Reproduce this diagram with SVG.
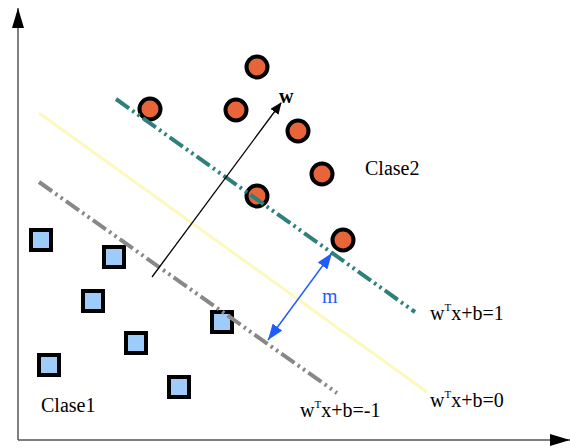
<svg xmlns="http://www.w3.org/2000/svg" width="570" height="448" viewBox="0 0 570 448">
<defs>
<style>
.c1{fill:#E8653A;stroke:#000;stroke-width:4}
.c2{fill:#9DCCFA;stroke:#000;stroke-width:4}
.lbl{font-family:"Liberation Serif",serif;font-size:20px;fill:#000}
.ax{stroke:#555;stroke-width:1.5;fill:none}
.dd{fill:none;stroke-width:4;stroke-dasharray:16 4 2.5 4 2.5 4}
</style>
<marker id="ah" markerWidth="12" markerHeight="10" refX="11" refY="5" orient="auto" markerUnits="userSpaceOnUse"><path d="M0,0 L12,5 L0,10 Z" fill="#000"/></marker>
<marker id="axh" markerWidth="20" markerHeight="12" refX="20" refY="6" orient="auto" markerUnits="userSpaceOnUse"><path d="M0,0 L20,6 L0,12 Z" fill="#000"/></marker>
<marker id="bh" markerWidth="16" markerHeight="12" refX="16" refY="6" orient="auto-start-reverse" markerUnits="userSpaceOnUse"><path d="M0,0 L16,6 L0,12 Z" fill="#1F5BFF"/></marker>
</defs>
<g id="axes">
<line class="ax" x1="18" y1="440" x2="18" y2="8" marker-end="url(#axh)"/>
<line class="ax" x1="18" y1="440" x2="570" y2="440" marker-end="url(#axh)"/>
</g>
<g id="class2">
<circle class="c1" cx="257" cy="67" r="10.5"/>
<circle class="c1" cx="150" cy="109" r="10.5"/>
<circle class="c1" cx="236" cy="110" r="10.5"/>
<circle class="c1" cx="298" cy="131" r="10.5"/>
<circle class="c1" cx="322" cy="174" r="10.5"/>
<circle class="c1" cx="257" cy="196" r="10.5"/>
<circle class="c1" cx="343" cy="240" r="10.5"/>
</g>
<g id="class1">
<rect class="c2" x="31" y="230" width="20" height="20"/>
<rect class="c2" x="104" y="247" width="20" height="20"/>
<rect class="c2" x="83" y="291" width="20" height="20"/>
<rect class="c2" x="212" y="312" width="20" height="20"/>
<rect class="c2" x="126" y="333" width="20" height="20"/>
<rect class="c2" x="39" y="355" width="20" height="20"/>
<rect class="c2" x="169" y="377" width="20" height="20"/>
</g>
<g id="connectors">
<line x1="39" y1="113" x2="427" y2="392" stroke="#FCF9BE" stroke-width="3"/>
<line class="dd" x1="116" y1="99" x2="415" y2="312" stroke="#2E807B"/>
<line class="dd" x1="39" y1="182" x2="337" y2="393" stroke="#888888"/>
<line x1="152" y1="277" x2="281" y2="103" stroke="#000" stroke-width="1.3" marker-end="url(#ah)"/>
<line x1="268" y1="340" x2="332" y2="253" stroke="#1F5BFF" stroke-width="1.5" marker-start="url(#bh)" marker-end="url(#bh)"/>
</g>
<g id="labels">
<text class="lbl" x="279" y="103" font-weight="bold" font-size="18">w</text>
<text class="lbl" x="365" y="175" font-size="21">Clase2</text>
<text class="lbl" x="41" y="412" font-size="21">Clase1</text>
<text class="lbl" x="322" y="303" style="fill:#1F5BFF">m</text>
<text class="lbl" x="430" y="320">w<tspan font-size="11" dy="-9">T</tspan><tspan dy="9">x+b=1</tspan></text>
<text class="lbl" x="430" y="407">w<tspan font-size="11" dy="-9">T</tspan><tspan dy="9">x+b=0</tspan></text>
<text class="lbl" x="300" y="417">w<tspan font-size="11" dy="-9">T</tspan><tspan dy="9">x+b=-1</tspan></text>
</g>
</svg>
